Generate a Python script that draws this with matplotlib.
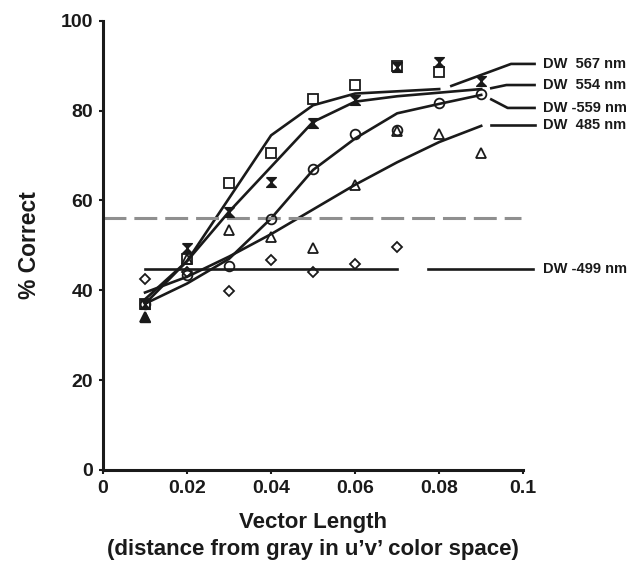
import matplotlib
matplotlib.use('Agg')
import matplotlib.pyplot as plt

plt.rcParams['font.family'] = ['Liberation Sans', 'DejaVu Sans']
plt.rcParams['font.weight'] = 'bold'

# vector length (u'v')
x = [0.01, 0.02, 0.03, 0.04, 0.05, 0.06, 0.07, 0.08, 0.09]

# measured % correct
pts_567 = [37, 47, 63.8, 70.5, 82.5, 85.7, 90, 88.6]
pts_554 = [37, 49.5, 57.5, 64.2, 77.3, 82.3, 89.8, 90.9, 86.5]
pts_559 = [37, 43.4, 45.4, 55.8, 67.1, 74.8, 75.7, 81.6, 83.8]
pts_485 = [34, 47, 53.4, 51.8, 49.5, 63.4, 75.4, 74.9, 70.6]
pts_499 = [42.4, 44, 39.9, 46.7, 44.1, 45.8, 49.7]

# fitted curves
fit_567 = [38, 46.5, 60.5, 74.5, 81.2, 83.8, 84.3, 84.8]
fit_554 = [37, 46.5, 57.5, 67.5, 77.5, 82, 83.2, 84, 84.8]
fit_559 = [37, 41.5, 47, 56, 66.8, 73.8, 79.4, 81.5, 83.5]
fit_485 = [39.5, 43, 47.5, 52.5, 58, 63.5, 68.5, 73, 76.6]
fit_499 = [44.7] * 7

chance = 56.2

labels = ['DW  567 nm', 'DW  554 nm', 'DW -559 nm', 'DW  485 nm', 'DW -499 nm']
label_y = [90.4, 85.7, 80.6, 76.8, 44.7]

fig = plt.figure(figsize=(6.3, 5.78), dpi=100)
ax = fig.add_axes([0.1635, 0.187, 0.667, 0.777])

lw = 1.9
ax.plot(x[:len(fit_567)], fit_567, color='#1a1a1a', lw=lw)
ax.plot(x, fit_554, color='#1a1a1a', lw=lw)
ax.plot(x, fit_559, color='#1a1a1a', lw=lw)
ax.plot(x, fit_485, color='#1a1a1a', lw=lw)
ax.plot(x[:len(fit_499)], fit_499, color='#1a1a1a', lw=lw)

ax.axhline(chance, xmin=0, xmax=0.995, color='#8f8f8f', lw=2.2, dashes=(7.5, 2.6))

ms = 7
mk = dict(ls='none', mfc='none', mec='#1a1a1a', mew=1.3, ms=ms, clip_on=False)
ax.plot(x[:len(pts_567)], pts_567, marker='s', **mk)
bowtie = [(-1, 1), (1, 1), (-1, -1), (1, -1), (-1, 1)]
ax.plot(x, pts_554, ls='none', marker=bowtie, color='#1a1a1a', ms=7, clip_on=False)
ax.plot(x, pts_559, marker='o', **mk)
ax.plot(x, pts_485, marker='^', **mk)
ax.plot(x[:1], pts_485[:1], ls='none', marker='^', color='#1a1a1a', ms=ms)
ax.plot(x[:len(pts_499)], pts_499, marker='D', **dict(mk, ms=5.5))

# leader lines from curve ends to the labels
lead_x = [[0.0829, 0.0971, 0.1027],
          [0.0924, 0.0960, 0.1027],
          [0.0924, 0.0963, 0.1027],
          [0.0924, 0.1027],
          [0.0773, 0.1023]]
lead_y = [[85.5, label_y[0], label_y[0]],
          [85.0, label_y[1], label_y[1]],
          [82.5, label_y[2], label_y[2]],
          [label_y[3], label_y[3]],
          [label_y[4], label_y[4]]]
for lx, ly, lab, ty in zip(lead_x, lead_y, labels, label_y):
    ax.plot(lx, ly, color='#1a1a1a', lw=lw, clip_on=False)
    ax.text(0.1047, ty, lab, fontsize=10.5, fontweight='bold', va='center',
            ha='left', color='#1a1a1a')

ax.set_xlim(0, 0.1)
ax.set_ylim(0, 100)
ax.set_xticks([0, 0.02, 0.04, 0.06, 0.08, 0.1])
ax.set_xticklabels(['0', '0.02', '0.04', '0.06', '0.08', '0.1'])
ax.set_yticks([0, 20, 40, 60, 80, 100])
ax.tick_params(labelsize=14, width=1.5, length=3, color='#1a1a1a', labelcolor='#1a1a1a', pad=4)
for t in ax.get_xticklabels() + ax.get_yticklabels():
    t.set_fontweight('bold')

for s in ['top', 'right']:
    ax.spines[s].set_visible(False)
for s in ['left', 'bottom']:
    ax.spines[s].set_linewidth(2.2)
    ax.spines[s].set_color('#1a1a1a')

ax.set_xlabel("Vector Length\n(distance from gray in u\u2019v\u2019 color space)",
              fontsize=16, fontweight='bold', color='#1a1a1a', labelpad=11, linespacing=1.4)
ax.set_ylabel('% Correct', fontsize=16.5, fontweight='bold', color='#1a1a1a', labelpad=14)

fig.savefig('out.png', dpi=100)
